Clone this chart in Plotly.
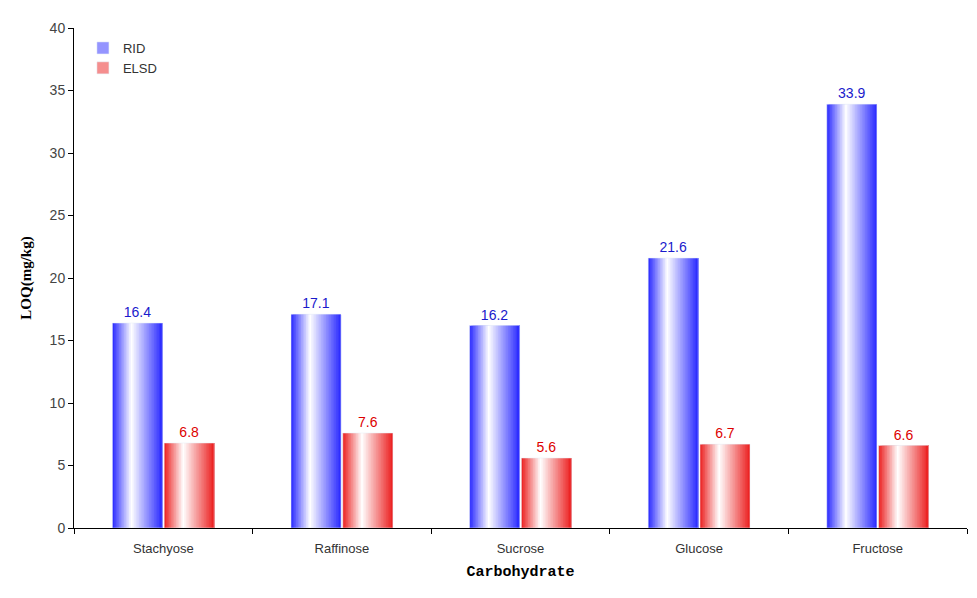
import plotly.graph_objects as go

categories = ["Stachyose", "Raffinose", "Sucrose", "Glucose", "Fructose"]
rid_values = [16.4, 17.1, 16.2, 21.6, 33.9]
elsd_values = [6.8, 7.6, 5.6, 6.7, 6.6]
y_ticks = [0, 5, 10, 15, 20, 25, 30, 35, 40]

BAR_W = 0.28
N_SLICES = 30


def blend(c, t):
    # t=0 full colour, t=1 white
    return "rgb(%d,%d,%d)" % tuple(round(v + (255 - v) * t) for v in c)


def profile(s):
    # whiteness across the bar: coloured at edges, white near 38%
    if s < 0.38:
        return s / 0.38
    return 1 - (s - 0.38) / 0.62


fig = go.Figure()

series = [
    ("RID", rid_values, (40, 40, 255), -BAR_W - 0.005, "#1a1acc"),
    ("ELSD", elsd_values, (235, 30, 30), 0.005, "#dd0000"),
]

for name, vals, base, off0, txtcol in series:
    sw = BAR_W / N_SLICES
    for i in range(N_SLICES):
        s = (i + 0.5) / N_SLICES
        # each slice runs to the bar's right edge, later ones cover it -> no seams
        fig.add_trace(go.Bar(
            x=categories, y=vals, width=BAR_W - i * sw, offset=off0 + i * sw,
            marker=dict(color=blend(base, profile(s)), line=dict(width=0)),
            showlegend=False, hoverinfo="skip", legendgroup=name,
        ))
    # transparent carrier for the value labels
    fig.add_trace(go.Bar(
        x=categories, y=vals, width=BAR_W, offset=off0,
        marker=dict(color="rgba(0,0,0,0)"),
        text=[f"{v:.1f}" for v in vals], textposition="outside",
        textfont=dict(color=txtcol, size=14, family="Liberation Sans"),
        cliponaxis=False, showlegend=False, legendgroup=name, hoverinfo="skip",
    ))
    # legend entry
    fig.add_trace(go.Bar(
        x=[None], y=[None], name=name, legendgroup=name,
        marker=dict(color=blend(base, 0.5)),
    ))

fig.update_layout(
    barmode="overlay",
    width=961, height=582,
    margin=dict(l=66, r=2, t=20, b=62),
    paper_bgcolor="white", plot_bgcolor="white",
    font=dict(family="Liberation Sans", size=12, color="#333333"),
    legend=dict(x=0.01, y=0.99, xanchor="left", yanchor="top",
                bgcolor="rgba(0,0,0,0)", font=dict(size=13, color="#333333"),
                itemwidth=30, tracegroupgap=0),
    xaxis=dict(
        showline=True, linecolor="black", linewidth=1,
        ticks="outside", tickson="boundaries", ticklen=5, tickcolor="black",
        showgrid=False, range=[-0.5, 4.5], automargin=False,
        ticklabelstandoff=8,
        tickfont=dict(size=13, color="#333333"),
        title=dict(text="<b>Carbohydrate</b>", font=dict(family="Liberation Mono", size=15, color="black"),
                   standoff=10),
    ),
    yaxis=dict(
        range=[0, 40], tickvals=y_ticks, automargin=False,
        showline=True, linecolor="black", linewidth=1,
        ticks="outside", ticklen=5, tickcolor="black",
        showgrid=False, zeroline=False,
        title=dict(text="<b>LOQ(mg/kg)</b>", font=dict(family="Liberation Serif", size=15, color="black"),
                   standoff=14),
        tickfont=dict(size=14, color="#444444"),
    ),
)

fig.write_html("out.html")
